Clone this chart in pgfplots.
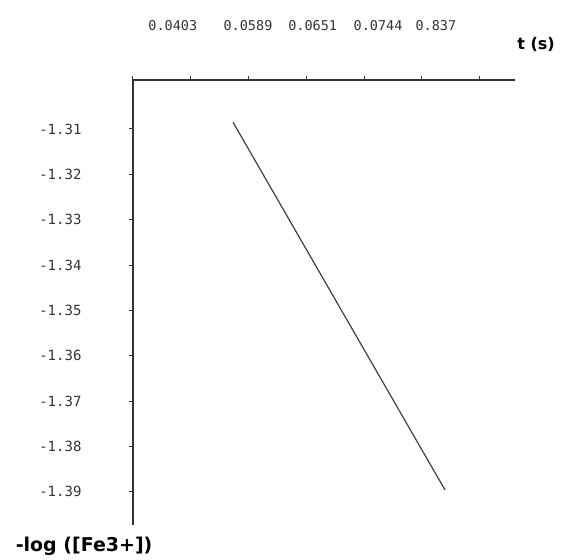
\documentclass[border=0pt]{standalone}
\usepackage{pgfplots}
\pgfplotsset{compat=1.18}
\usepackage{fontspec}
\setmainfont{DejaVu Sans}
\newfontfamily\monof{DejaVu Sans Mono}
\begin{document}
\begin{tikzpicture}
\path (-133pt,-33pt) rectangle (433pt,525pt);
\begin{axis}[
  scale only axis, width=382pt, height=445pt,
  at={(0pt,0pt)}, anchor=south west,
  xmin=0, xmax=6.61, ymin=-1.3973, ymax=-1.2992,
  axis x line*=top, axis y line*=left,
  axis line style={line width=1.3pt, black!80},
  tick align=outside,
  major tick length=4pt,
  tick style={black!80, line width=1pt},
  xtick={0,1,2,3,4,5,6}, xticklabels={},
  extra x ticks={0.69,1.99,3.11,4.24,5.24},
  extra x tick labels={0.0403,0.0589,0.0651,0.0744,0.837},
  extra x tick style={major tick length=0pt, xticklabel style={yshift=46pt}},
  xticklabel style={font=\monof\fontsize{13.5}{13.5}\selectfont, text=black!80},
  ytick={-1.31,-1.32,-1.33,-1.34,-1.35,-1.36,-1.37,-1.38,-1.39},
  yticklabels={-1.31,-1.32,-1.33,-1.34,-1.35,-1.36,-1.37,-1.38,-1.39},
  yticklabel style={font=\monof\fontsize{14}{14}\selectfont, text=black!80, xshift=-44pt},
  xlabel={t (s)}, ylabel={-log ([Fe3+])},
  xlabel style={at={(axis description cs:1.055,1.079)}, anchor=center, font=\bfseries\fontsize{16}{16}\selectfont},
  ylabel style={at={(axis description cs:-0.128,-0.049)}, anchor=center, rotate=-90, font=\bfseries\fontsize{19}{19}\selectfont},
]
\addplot[black!75, line width=1.2pt] coordinates {(1.73,-1.3085) (5.40,-1.3896)};
\end{axis}
\end{tikzpicture}
\end{document}
